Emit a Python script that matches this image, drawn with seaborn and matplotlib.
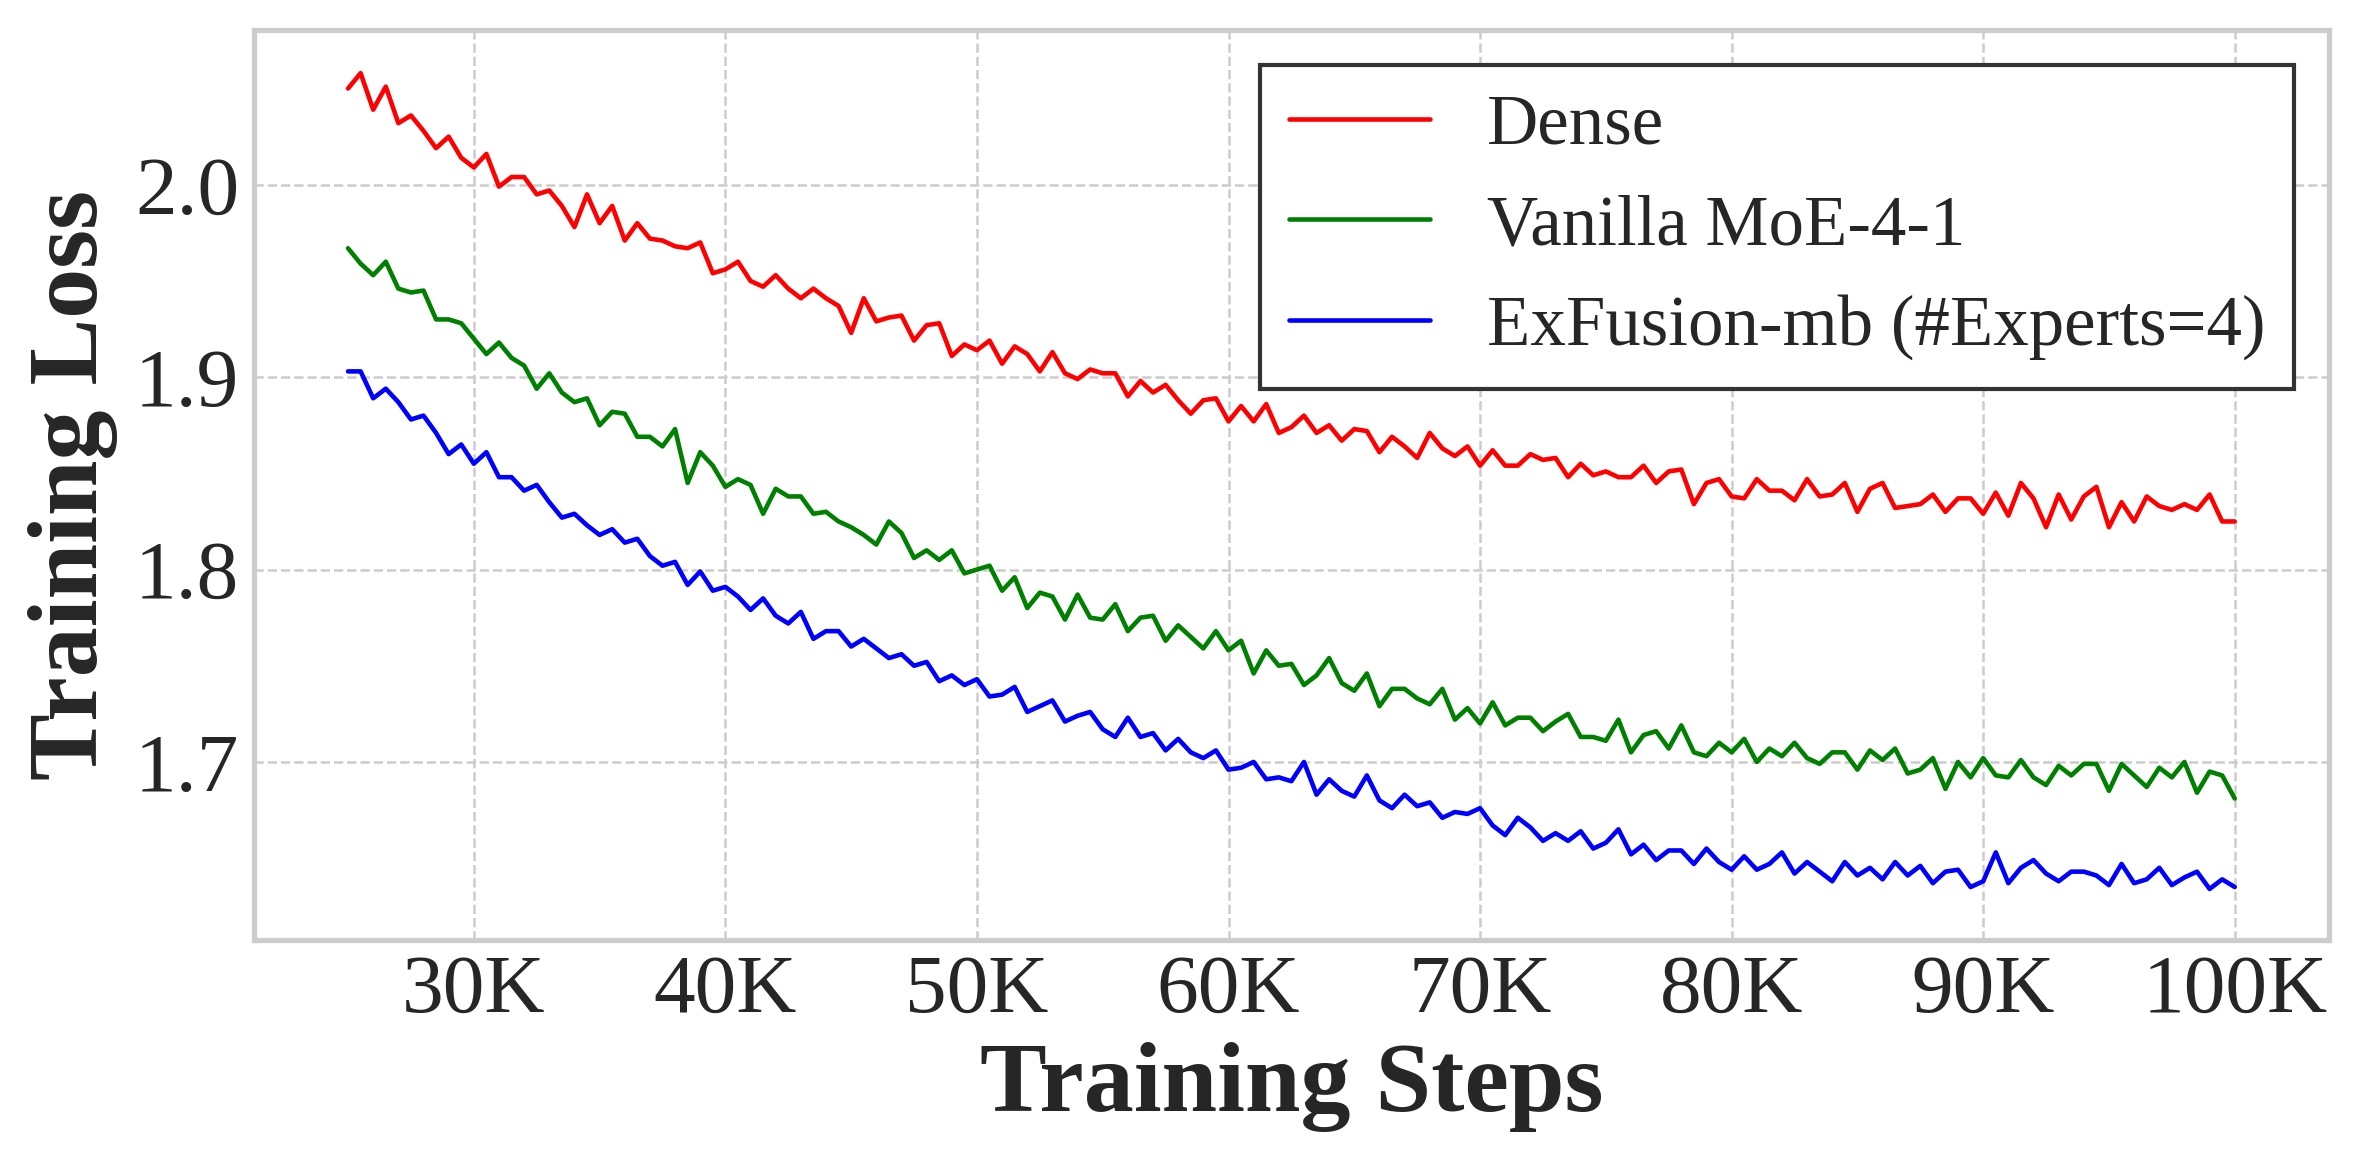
import numpy as np
import pandas as pd
import seaborn as sns
import matplotlib.pyplot as plt

# training steps, sampled every 500 steps (25K .. 100K)
steps = np.arange(25000, 100001, 500)

dense = [2.050, 2.058, 2.039, 2.051, 2.032, 2.036, 2.028, 2.019, 2.025, 2.014, 2.009, 2.016, 1.999, 2.004, 2.004, 1.995, 1.997, 1.989, 1.978, 1.995, 1.980, 1.989, 1.971, 1.980, 1.972,
         1.971, 1.968, 1.967, 1.970, 1.954, 1.956, 1.960, 1.950, 1.947, 1.953, 1.946, 1.941, 1.946, 1.941, 1.937, 1.923, 1.941, 1.929, 1.931, 1.932, 1.919, 1.927, 1.928, 1.911, 1.917,
         1.914, 1.919, 1.907, 1.916, 1.912, 1.903, 1.913, 1.902, 1.899, 1.904, 1.902, 1.902, 1.890, 1.898, 1.892, 1.896, 1.888, 1.881, 1.888, 1.889, 1.877, 1.885, 1.877, 1.886, 1.871,
         1.874, 1.880, 1.871, 1.875, 1.867, 1.873, 1.872, 1.861, 1.869, 1.864, 1.858, 1.871, 1.863, 1.859, 1.864, 1.854, 1.862, 1.854, 1.854, 1.860, 1.857, 1.858, 1.848, 1.855, 1.849,
         1.851, 1.848, 1.848, 1.854, 1.845, 1.851, 1.852, 1.834, 1.845, 1.847, 1.838, 1.837, 1.847, 1.841, 1.841, 1.836, 1.847, 1.838, 1.839, 1.845, 1.830, 1.842, 1.845, 1.832, 1.833,
         1.834, 1.839, 1.830, 1.837, 1.837, 1.829, 1.840, 1.828, 1.845, 1.837, 1.822, 1.839, 1.826, 1.838, 1.843, 1.822, 1.835, 1.825, 1.838, 1.833, 1.831, 1.834, 1.831, 1.839, 1.825, 1.825]

vanilla = [1.967, 1.959, 1.953, 1.960, 1.946, 1.944, 1.945, 1.930, 1.930, 1.928, 1.920, 1.912, 1.918, 1.910, 1.906, 1.894, 1.902, 1.892, 1.887, 1.889, 1.875, 1.882, 1.881, 1.869, 1.869,
           1.864, 1.873, 1.845, 1.861, 1.854, 1.843, 1.847, 1.844, 1.829, 1.842, 1.838, 1.838, 1.829, 1.830, 1.825, 1.822, 1.818, 1.813, 1.825, 1.819, 1.806, 1.810, 1.805, 1.810, 1.798,
           1.800, 1.802, 1.789, 1.796, 1.780, 1.788, 1.786, 1.774, 1.787, 1.775, 1.774, 1.782, 1.768, 1.775, 1.776, 1.763, 1.771, 1.765, 1.759, 1.768, 1.758, 1.763, 1.746, 1.758, 1.750,
           1.751, 1.740, 1.745, 1.754, 1.741, 1.737, 1.746, 1.729, 1.738, 1.738, 1.733, 1.730, 1.738, 1.722, 1.728, 1.720, 1.731, 1.719, 1.723, 1.723, 1.716, 1.721, 1.725, 1.713, 1.713,
           1.711, 1.722, 1.705, 1.714, 1.716, 1.707, 1.719, 1.705, 1.703, 1.710, 1.705, 1.712, 1.700, 1.707, 1.703, 1.710, 1.702, 1.699, 1.705, 1.705, 1.696, 1.706, 1.701, 1.707, 1.694,
           1.696, 1.702, 1.686, 1.700, 1.692, 1.702, 1.693, 1.692, 1.701, 1.692, 1.688, 1.698, 1.693, 1.699, 1.699, 1.685, 1.699, 1.693, 1.687, 1.697, 1.692, 1.700, 1.684, 1.695, 1.693, 1.681]

exfusion = [1.903, 1.903, 1.889, 1.894, 1.887, 1.878, 1.880, 1.871, 1.860, 1.865, 1.855, 1.861, 1.848, 1.848, 1.841, 1.844, 1.835, 1.827, 1.829, 1.823, 1.818, 1.821, 1.814, 1.816, 1.807,
            1.802, 1.804, 1.792, 1.799, 1.789, 1.791, 1.786, 1.779, 1.785, 1.776, 1.772, 1.778, 1.764, 1.768, 1.768, 1.760, 1.764, 1.759, 1.754, 1.756, 1.750, 1.752, 1.742, 1.745, 1.740,
            1.743, 1.734, 1.735, 1.739, 1.726, 1.729, 1.732, 1.721, 1.724, 1.726, 1.717, 1.713, 1.723, 1.713, 1.715, 1.706, 1.712, 1.705, 1.702, 1.706, 1.696, 1.697, 1.700, 1.691, 1.692,
            1.690, 1.700, 1.683, 1.691, 1.685, 1.682, 1.693, 1.680, 1.676, 1.683, 1.677, 1.679, 1.671, 1.674, 1.673, 1.676, 1.667, 1.662, 1.671, 1.666, 1.659, 1.663, 1.659, 1.664, 1.655,
            1.658, 1.665, 1.652, 1.657, 1.649, 1.654, 1.654, 1.647, 1.655, 1.648, 1.644, 1.651, 1.644, 1.647, 1.653, 1.642, 1.648, 1.643, 1.638, 1.648, 1.641, 1.645, 1.639, 1.648, 1.641,
            1.646, 1.637, 1.643, 1.644, 1.635, 1.638, 1.653, 1.637, 1.645, 1.649, 1.642, 1.638, 1.643, 1.643, 1.641, 1.636, 1.647, 1.637, 1.639, 1.645, 1.636, 1.640, 1.643, 1.634, 1.639, 1.635]

methods = ['Dense', 'Vanilla MoE-4-1', 'ExFusion-mb (#Experts=4)']
colors = ['red', 'green', 'blue']
xtick_vals = [30000, 40000, 50000, 60000, 70000, 80000, 90000, 100000]
xtick_labels = ['30K', '40K', '50K', '60K', '70K', '80K', '90K', '100K']
ytick_vals = [1.7, 1.8, 1.9, 2.0]

df = pd.DataFrame({
    'step': np.concatenate([steps, steps, steps]),
    'loss': dense + vanilla + exfusion,
    'method': [methods[0]] * len(steps) + [methods[1]] * len(steps) + [methods[2]] * len(steps),
})

sns.set_theme(style='whitegrid')
plt.rcParams['font.family'] = ['Liberation Serif', 'DejaVu Serif']
plt.rcParams['grid.linestyle'] = '--'
plt.rcParams['grid.linewidth'] = 0.6
plt.rcParams['grid.color'] = '#cccccc'

fig = plt.figure(figsize=(2360 / 300, 1166 / 300), dpi=300)
ax = fig.add_axes([0.1075, 0.1942, 0.8794, 0.7802])

sns.lineplot(data=df, x='step', y='loss', hue='method', hue_order=methods,
             palette=dict(zip(methods, colors)), linewidth=1.1, ax=ax)

ax.set_xlim(21250, 103750)
ax.set_ylim(1.6077, 2.0805)
ax.set_xticks(xtick_vals)
ax.set_xticklabels(xtick_labels)
ax.set_yticks(ytick_vals)
ax.tick_params(labelsize=20, length=0, pad=3.5)
ax.set_xlabel('Training Steps', fontsize=24, fontweight='bold', labelpad=3)
ax.set_ylabel('Training Loss', fontsize=24, fontweight='bold', labelpad=4)

leg = ax.legend(fontsize=17, loc='upper right', fancybox=False, framealpha=1)
leg.get_frame().set_edgecolor('#333333')
leg.get_frame().set_linewidth(1.0)

plt.savefig('out.png', dpi=300)
